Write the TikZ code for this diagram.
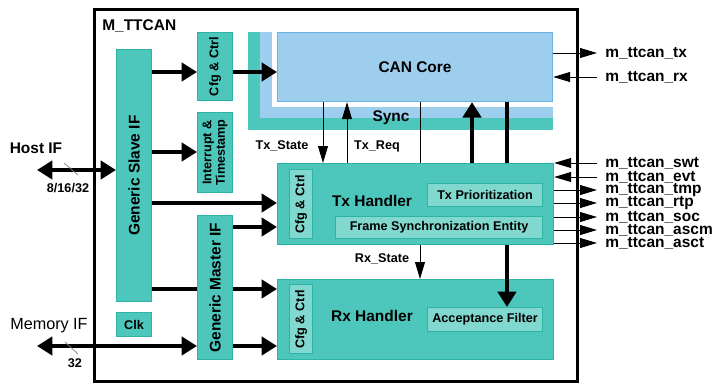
\documentclass[tikz,border=0pt]{standalone}
\usepackage{fontspec}
\setmainfont{Liberation Sans}
\usepackage{tikz}
\usetikzlibrary{arrows.meta}

\definecolor{canteal}{HTML}{4DC7BB}
\definecolor{canteald}{HTML}{2EB4A7}
\definecolor{canlite}{HTML}{80D8CE}
\definecolor{canblue}{HTML}{9DCEEE}
\definecolor{canblued}{HTML}{6AB2E2}

\begin{document}
\begin{tikzpicture}[x=0.025cm, y=-0.025cm,
    sz/.style 2 args={minimum width=#1*0.025cm, minimum height=#2*0.025cm},
    blk/.style={draw=canteald, fill=canteal, line width=0.8pt, inner sep=0pt, anchor=north west},
    sub/.style={draw=canteald, fill=canlite, line width=0.8pt, inner sep=0pt, anchor=north west},
    big/.style={font=\fontsize{11}{13}\selectfont\bfseries},
    sml/.style={font=\fontsize{9}{9.5}\selectfont\bfseries, align=center},
    sig/.style={line width=0.7pt, -{Triangle[length=12pt,width=7pt]}},
    thk/.style={line width=3.2pt, -{Triangle[length=11pt,width=13pt]}},
    dbl/.style={line width=3.2pt, {Triangle[length=11pt,width=13pt]}-{Triangle[length=11pt,width=13pt]}},
    pin/.style={anchor=west, inner xsep=5.7pt, inner ysep=0pt, font=\fontsize{11}{11}\selectfont\bfseries},
  ]
  \useasboundingbox (0,0) rectangle (716,382);

  % module frame
  \node[draw, line width=2pt, inner sep=0pt, anchor=north west, sz={483}{372}] (mttcan) at (93,8) {};
  \node[big, anchor=west, inner sep=0pt] (title) at (102,26) {M\_TTCAN};

  % sync layers behind the core
  \fill[canteal] (248,32) rectangle (553,130);
  \fill[canblue] (260,32) rectangle (553,118);
  \fill[white] (272,32) rectangle (553,107);
  \node[big] (sync) at (391,118) {Sync};

  \node[draw=canblued, fill=canblue, line width=0.8pt, inner sep=0pt, anchor=north west, sz={275}{69}, big] (core) at (277,32) {CAN Core};

  \node[blk, sz={35}{252}, label={[big, rotate=90]center:Generic Slave IF}] (slave) at (116,49) {};
  \node[blk, sz={35}{68}, label={[sml, rotate=90]center:Cfg \& Ctrl}] (cfgtop) at (197,32) {};
  \node[blk, sz={35}{80}, label={[sml, rotate=90]center:Interrupt \&\\Timestamp}] (intr) at (197,112) {};
  \node[blk, sz={35}{24}, sml] (clk) at (116,312) {Clk};

  \node[blk, sz={276}{80}] (rx) at (277,279) {};
  \node[sub, sz={23}{69}, label={[sml, rotate=90]center:Cfg \& Ctrl}] (rxcfg) at (289,284) {};
  \node[sub, sz={115}{24}, sml] (accf) at (427,307) {Acceptance Filter};
  \node[big] (rxtext) at (372,316) {Rx Handler};

  % rows and columns
  \coordinate (yCfg) at (0,72);
  \coordinate (yInt) at (0,152);
  \coordinate (yTx1) at (0,203);
  \coordinate (yTx2) at (0,227);
  \coordinate (yRx1) at (0,289);
  \coordinate (host) at (37,170);
  \coordinate (mem) at (37,346);
  \coordinate (xTs) at (323,0);
  \coordinate (xTq) at (347,0);
  \coordinate (xRs) at (420,0);
  \coordinate (xUp) at (472,0);
  \coordinate (xDn) at (507,0);

  % lines running behind boxes
  \draw[thk] (slave.east |- yRx1) -- (rx.west |- yRx1);
  \draw[sig] (core.south -| xRs) -- (rx.north -| xRs);
  \draw[thk] (core.south -| xDn) -- (accf.north -| xDn);

  \node[blk, sz={35}{144}, label={[big, rotate=90]center:Generic Master IF}] (master) at (197,215) {};
  \node[blk, sz={276}{81}] (tx) at (277,163) {};
  \node[sub, sz={23}{69}, label={[sml, rotate=90]center:Cfg \& Ctrl}] (txcfg) at (289,169) {};
  \node[sub, sz={115}{23}, sml] (txprio) at (427,183) {Tx Prioritization};
  \node[sub, sz={207}{22}, sml] (fse) at (335,216) {Frame Synchronization Entity};
  \node[big] (txtext) at (372,201) {Tx Handler};

  % host side
  \draw[thk] (slave.east |- yCfg) -- (cfgtop.west |- yCfg);
  \draw[thk] (cfgtop.east |- yCfg) -- (core.west |- yCfg);
  \draw[thk] (slave.east |- yInt) -- (intr.west |- yInt);
  \draw[thk] (slave.east |- yTx1) -- (tx.west |- yTx1);
  \draw[thk] (master.east |- yTx2) -- (tx.west |- yTx2);
  \draw[thk] (master.east |- mem) -- (rx.west |- mem);
  \draw[dbl] (host) -- (slave.west |- host);
  \draw[dbl] (mem) -- (master.west |- mem);
  \draw[gray, line width=0.5pt] (64,163) -- (78,175);
  \draw[gray, line width=0.5pt] (65,342) -- (78,354);
  \node[big] (hostif) at (36,148) {Host IF};
  \node[sml] (hostw) at (68,188) {8/16/32};
  \node[font=\fontsize{11.5}{13}\selectfont] (memif) at (49,326) {Memory IF};
  \node[sml] (memw) at (75,363) {32};

  % core to tx handler
  \draw[sig] (core.south -| xTs) -- (tx.north -| xTs);
  \draw[sig] (tx.north -| xTq) -- (core.south -| xTq);
  \draw[thk] (tx.north -| xUp) -- (core.south -| xUp);
  \node[sml] (txst) at (282,146) {Tx\_State};
  \node[sml] (txrq) at (377,146) {Tx\_Req};
  \node[sml] (rxst) at (382,259) {Rx\_State};

  % pins
  \node[pin] (sTx) at (597,53) {m\_ttcan\_tx};
  \node[pin] (sRx) at (597,77) {m\_ttcan\_rx};
  \node[pin] (sSwt) at (597,163) {m\_ttcan\_swt};
  \node[pin] (sEvt) at (597,177) {m\_ttcan\_evt};
  \node[pin] (sTmp) at (597,190) {m\_ttcan\_tmp};
  \node[pin] (sRtp) at (597,203) {m\_ttcan\_rtp};
  \node[pin] (sSoc) at (597,217) {m\_ttcan\_soc};
  \node[pin] (sAscm) at (597,230) {m\_ttcan\_ascm};
  \node[pin] (sAsct) at (597,243) {m\_ttcan\_asct};
  \draw[sig] (core.east |- sTx) -- (sTx.west);
  \draw[sig] (sRx.west) -- (core.east |- sRx);
  \draw[sig] (sSwt.west) -- (tx.east |- sSwt);
  \draw[sig] (sEvt.west) -- (tx.east |- sEvt);
  \draw[sig] (tx.east |- sTmp) -- (sTmp.west);
  \draw[sig] (tx.east |- sRtp) -- (sRtp.west);
  \draw[sig] (tx.east |- sSoc) -- (sSoc.west);
  \draw[sig] (tx.east |- sAscm) -- (sAscm.west);
  \draw[sig] (tx.east |- sAsct) -- (sAsct.west);
\end{tikzpicture}
\end{document}
